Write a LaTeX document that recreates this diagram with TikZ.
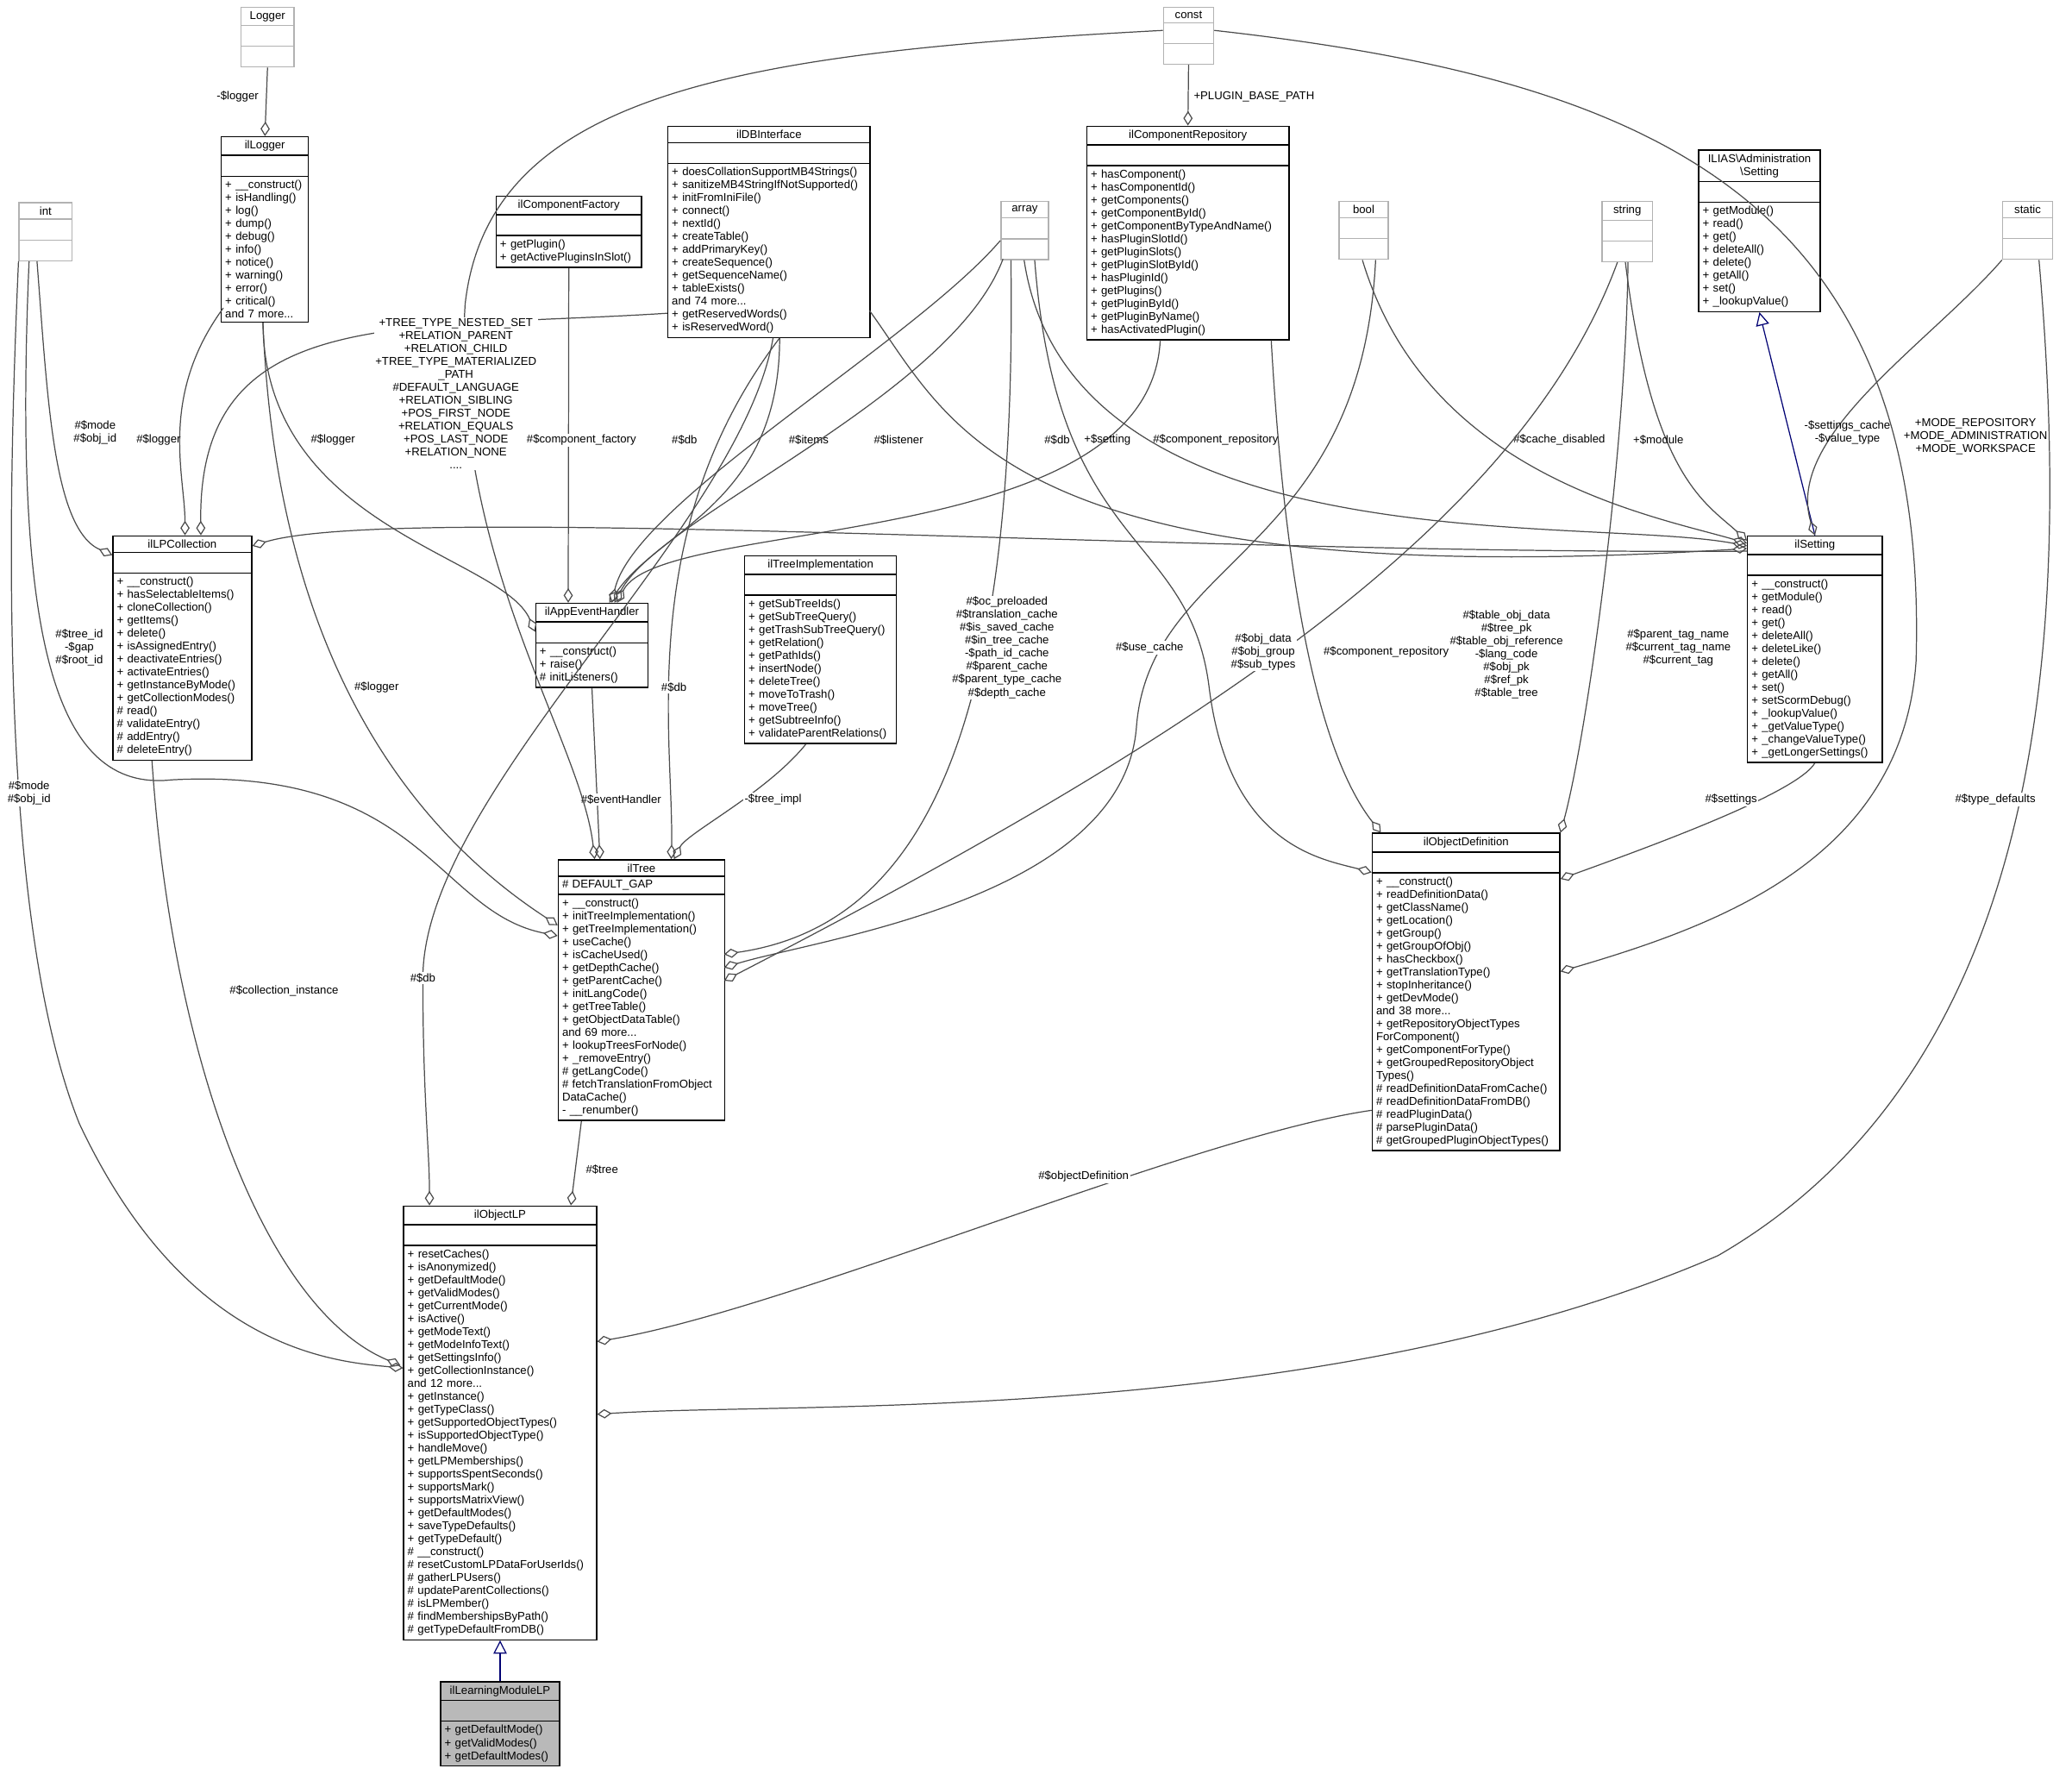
\documentclass[tikz,border=0pt]{standalone}
\usepackage{fontspec}
\setmainfont{Liberation Sans}
\usetikzlibrary{shapes.multipart,arrows.meta,calc}
\begin{document}
\begin{tikzpicture}[x=0.5pt,y=-0.5pt,
 cls/.style={rectangle split, rectangle split parts=3, draw=black, fill=white, anchor=north west, inner xsep=1.5pt, inner ysep=1.3pt, font=\fontsize{4.3}{4.9}\selectfont, line width=0.45pt},
 gcls/.style={cls, draw=gray!60},
 hl/.style={cls, fill=gray!55},
 agg/.style={draw=black!70, line width=0.4pt, -{Diamond[open,length=5.5pt,width=3.5pt]}},
 inh/.style={draw=blue!45!black, line width=0.4pt, -{Triangle[open,length=5pt,width=5pt]}},
 lbl/.style={font=\fontsize{4.3}{4.9}\selectfont, align=center, inner sep=0.5pt}]
\useasboundingbox (0,0) rectangle (1568,1347);
\newcommand{\E}{\rule{0pt}{4.8pt}}
\newcommand{\T}[1]{{\centering #1\par}}
% gray classes
\node[gcls,text width=17pt] (Logger) at (182,5) {\T{Logger}\nodepart{two}\E\nodepart{three}\E};
\node[gcls,text width=17pt] (int) at (14,153) {\T{int}\nodepart{two}\E\nodepart{three}\E};
\node[gcls,text width=16pt] (const) at (880,5) {\T{const}\nodepart{two}\E\nodepart{three}\E};
\node[gcls,text width=15pt] (array) at (757,152) {\T{array}\nodepart{two}\E\nodepart{three}\E};
\node[gcls,text width=15.5pt] (bool) at (1013,152) {\T{bool}\nodepart{two}\E\nodepart{three}\E};
\node[gcls,text width=16pt] (string) at (1212,152) {\T{string}\nodepart{two}\E\nodepart{three}\E};
\node[gcls,text width=16pt] (static) at (1515,152) {\T{static}\nodepart{two}\E\nodepart{three}\E};
% classes
\node[cls,text width=30pt] (ilLogger) at (167,103) {\T{ilLogger}\nodepart{two}\E\nodepart{three}+ \_\_construct()\\+ isHandling()\\+ log()\\+ dump()\\+ debug()\\+ info()\\+ notice()\\+ warning()\\+ error()\\+ critical()\\and 7 more...};
\node[cls,text width=49.5pt] (ilLPCollection) at (85,405) {\T{ilLPCollection}\nodepart{two}\E\nodepart{three}+ \_\_construct()\\+ hasSelectableItems()\\+ cloneCollection()\\+ getItems()\\+ delete()\\+ isAssignedEntry()\\+ deactivateEntries()\\+ activateEntries()\\+ getInstanceByMode()\\+ getCollectionModes()\\\# read()\\\# validateEntry()\\\# addEntry()\\\# deleteEntry()};
\node[cls,text width=52pt] (ilComponentFactory) at (375,148) {\T{ilComponentFactory}\nodepart{two}\E\nodepart{three}+ getPlugin()\\+ getActivePluginsInSlot()};
\node[cls,text width=73.5pt] (ilDBInterface) at (505,95) {\T{ilDBInterface}\nodepart{two}\E\nodepart{three}+ doesCollationSupportMB4Strings()\\+ sanitizeMB4StringIfNotSupported()\\+ initFromIniFile()\\+ connect()\\+ nextId()\\+ createTable()\\+ addPrimaryKey()\\+ createSequence()\\+ getSequenceName()\\+ tableExists()\\and 74 more...\\+ getReservedWords()\\+ isReservedWord()};
\node[cls,text width=73.5pt] (ilComponentRepository) at (822,95) {\T{ilComponentRepository}\nodepart{two}\E\nodepart{three}+ hasComponent()\\+ hasComponentId()\\+ getComponents()\\+ getComponentById()\\+ getComponentByTypeAndName()\\+ hasPluginSlotId()\\+ getPluginSlots()\\+ getPluginSlotById()\\+ hasPluginId()\\+ getPlugins()\\+ getPluginById()\\+ getPluginByName()\\+ hasActivatedPlugin()};
\node[cls,text width=43pt] (ILIASSetting) at (1285,113) {\T{ILIAS\textbackslash Administration\\\textbackslash Setting}\nodepart{two}\E\nodepart{three}+ getModule()\\+ read()\\+ get()\\+ deleteAll()\\+ delete()\\+ getAll()\\+ set()\\+ \_lookupValue()};
\node[cls,text width=39.5pt] (ilAppEventHandler) at (405,456) {\T{ilAppEventHandler}\nodepart{two}\E\nodepart{three}+ \_\_construct()\\+ raise()\\\# initListeners()};
\node[cls,text width=54.5pt] (ilTreeImplementation) at (563,420) {\T{ilTreeImplementation}\nodepart{two}\E\nodepart{three}+ getSubTreeIds()\\+ getSubTreeQuery()\\+ getTrashSubTreeQuery()\\+ getRelation()\\+ getPathIds()\\+ insertNode()\\+ deleteTree()\\+ moveToTrash()\\+ moveTree()\\+ getSubtreeInfo()\\+ validateParentRelations()};
\node[cls,text width=48pt] (ilSetting) at (1322,405) {\T{ilSetting}\nodepart{two}\E\nodepart{three}+ \_\_construct()\\+ getModule()\\+ read()\\+ get()\\+ deleteAll()\\+ deleteLike()\\+ delete()\\+ getAll()\\+ set()\\+ setScormDebug()\\+ \_lookupValue()\\+ \_getValueType()\\+ \_changeValueType()\\+ \_getLongerSettings()};
\node[cls,text width=60pt] (ilTree) at (422,650) {\T{ilTree}\nodepart{two}\# DEFAULT\_GAP\nodepart{three}+ \_\_construct()\\+ initTreeImplementation()\\+ getTreeImplementation()\\+ useCache()\\+ isCacheUsed()\\+ getDepthCache()\\+ getParentCache()\\+ initLangCode()\\+ getTreeTable()\\+ getObjectDataTable()\\and 69 more...\\+ lookupTreesForNode()\\+ \_removeEntry()\\\# getLangCode()\\\# fetchTranslationFromObject\\DataCache()\\- \_\_renumber()};
\node[cls,text width=68pt] (ilObjectDefinition) at (1038,630) {\T{ilObjectDefinition}\nodepart{two}\E\nodepart{three}+ \_\_construct()\\+ readDefinitionData()\\+ getClassName()\\+ getLocation()\\+ getGroup()\\+ getGroupOfObj()\\+ hasCheckbox()\\+ getTranslationType()\\+ stopInheritance()\\+ getDevMode()\\and 38 more...\\+ getRepositoryObjectTypes\\ForComponent()\\+ getComponentForType()\\+ getGroupedRepositoryObject\\Types()\\\# readDefinitionDataFromCache()\\\# readDefinitionDataFromDB()\\\# readPluginData()\\\# parsePluginData()\\\# getGroupedPluginObjectTypes()};
\node[cls,text width=70pt] (ilObjectLP) at (305,912) {\T{ilObjectLP}\nodepart{two}\E\nodepart{three}+ resetCaches()\\+ isAnonymized()\\+ getDefaultMode()\\+ getValidModes()\\+ getCurrentMode()\\+ isActive()\\+ getModeText()\\+ getModeInfoText()\\+ getSettingsInfo()\\+ getCollectionInstance()\\and 12 more...\\+ getInstance()\\+ getTypeClass()\\+ getSupportedObjectTypes()\\+ isSupportedObjectType()\\+ handleMove()\\+ getLPMemberships()\\+ supportsSpentSeconds()\\+ supportsMark()\\+ supportsMatrixView()\\+ getDefaultModes()\\+ saveTypeDefaults()\\+ getTypeDefault()\\\# \_\_construct()\\\# resetCustomLPDataForUserIds()\\\# gatherLPUsers()\\\# updateParentCollections()\\\# isLPMember()\\\# findMembershipsByPath()\\\# getTypeDefaultFromDB()};
\node[hl,text width=42pt] (ilLearningModuleLP) at (333,1272) {\T{ilLearningModuleLP}\nodepart{two}\E\nodepart{three}+ getDefaultMode()\\+ getValidModes()\\+ getDefaultModes()};
% edges
\draw[agg] (Logger.south) -- (ilLogger.north);
\node[lbl,anchor=east] (l1) at (197,73) {-\$logger};
\draw[agg] (const.south) -- (ilComponentRepository.north);
\node[lbl,anchor=west] (l2) at (902,73) {+PLUGIN\_BASE\_PATH};
\draw[inh] (ilSetting.north) -- (ILIASSetting.south);
\draw[agg] (static.south west) .. controls (1460,260) and (1350,330) .. (ilSetting.north);
\node[lbl] (l3) at (1398,327) {-\$settings\_cache\\-\$value\_type};
% to ilLPCollection
\draw[agg] ($(int.south west)+(14,0)$) .. controls (36,300) and (40,400) .. ($(ilLPCollection.north west)+(0,15)$);
\node[lbl] (l4) at (72,327) {\#\$mode\\\#\$obj\_id};
\draw[agg] ($(ilLogger.north west)+(2,130)$) .. controls (120,300) and (140,360) .. ($(ilLPCollection.north west)+(55,0)$);
\node[lbl] (l5) at (120,333) {\#\$logger};
\draw[agg] ($(ilDBInterface.north west)+(0,142)$) .. controls (300,250) and (150,230) .. ($(ilLPCollection.north west)+(67,0)$);
\draw[agg] ($(ilSetting.north west)+(0,12)$) .. controls (900,420) and (300,380) .. ($(ilLPCollection.north east)+(0,8)$);
% to ilAppEventHandler
\draw[agg] ($(ilLogger.south west)+(32,0)$) .. controls (200,400) and (380,420) .. ($(ilAppEventHandler.north west)+(0,22)$);
\node[lbl] (l6) at (252,333) {\#\$logger};
\draw[agg] (ilComponentFactory.south) -- ($(ilAppEventHandler.north west)+(25,0)$);
\draw[agg] ($(ilDBInterface.south west)+(85,0)$) .. controls (590,380) and (500,400) .. ($(ilAppEventHandler.north west)+(56,0)$);
\node[lbl] (l8) at (518,333) {\#\$db};
\draw[agg] ($(array.north west)+(0,30)$) .. controls (690,260) and (480,380) .. ($(ilAppEventHandler.north west)+(58,0)$);
\node[lbl] (l9) at (612,333) {\#\$items};
\draw[agg] ($(array.north west)+(2,44)$) .. controls (720,300) and (500,390) .. ($(ilAppEventHandler.north west)+(60,0)$);
\node[lbl] (l10) at (680,333) {\#\$listener};
\draw[agg] ($(ilComponentRepository.south west)+(56,0)$) .. controls (870,420) and (500,390) .. ($(ilAppEventHandler.north west)+(62,0)$);
\node[lbl] (l11) at (920,333) {\#\$component\_repository};
% to ilSetting
\draw[agg] ($(ilDBInterface.north west)+(153,140)$) .. controls (720,320) and (760,450) .. ($(ilSetting.north west)+(0,10)$);
\node[lbl] (l12) at (800,333) {\#\$db};
\draw[agg] ($(array.south west)+(18,0)$) .. controls (810,430) and (1200,390) .. ($(ilSetting.north west)+(0,8)$);
\node[lbl] (l13) at (838,333) {+\$setting};
\draw[agg] ($(bool.south west)+(18,0)$) .. controls (1080,360) and (1250,390) .. ($(ilSetting.north west)+(0,6)$);
\node[lbl] (l14) at (1180,333) {\#\$cache\_disabled};
\draw[agg] ($(string.south west)+(18,0)$) .. controls (1250,360) and (1290,380) .. ($(ilSetting.north west)+(0,4)$);
\node[lbl] (l15) at (1255,333) {+\$module};
% to ilTree
\draw[agg] (ilAppEventHandler.south) -- ($(ilTree.north west)+(32,0)$);
\node[lbl,fill=white] (l16) at (470,605) {\#\$eventHandler};
\draw[agg] ($(ilTreeImplementation.south west)+(47,0)$) .. controls (580,600) and (520,630) .. ($(ilTree.north west)+(88,0)$);
\node[lbl,fill=white] (l17) at (585,605) {-\$tree\_impl};
\draw[agg] ($(const.north west)+(0,18)$) .. controls (560,40) and (370,70) .. (352,230) .. controls (340,420) and (440,560) .. ($(ilTree.north west)+(28,0)$);
\node[lbl,fill=white] (l18) at (345,298) {+TREE\_TYPE\_NESTED\_SET\\+RELATION\_PARENT\\+RELATION\_CHILD\\+TREE\_TYPE\_MATERIALIZED\\\_PATH\\\#DEFAULT\_LANGUAGE\\+RELATION\_SIBLING\\+POS\_FIRST\_NODE\\+RELATION\_EQUALS\\+POS\_LAST\_NODE\\+RELATION\_NONE\\....};
\node[lbl,fill=white] (l7) at (440,333) {\#\$component\_factory};
\draw[agg] ($(int.south west)+(8,0)$) .. controls (10,480) and (40,600) .. (130,590) .. controls (320,580) and (330,690) .. ($(ilTree.north west)+(0,58)$);
\node[lbl,fill=white] (l19) at (60,490) {\#\$tree\_id\\-\$gap\\\#\$root\_id};
\draw[agg] ($(ilLogger.south west)+(32,0)$) .. controls (210,520) and (330,640) .. ($(ilTree.north west)+(0,50)$);
\node[lbl,fill=white] (l20) at (285,520) {\#\$logger};
\draw[agg] ($(ilDBInterface.south west)+(85,0)$) .. controls (480,400) and (510,560) .. ($(ilTree.north west)+(86,0)$);
\node[lbl,fill=white] (l21) at (510,520) {\#\$db};
\draw[agg] ($(array.south west)+(8,0)$) .. controls (770,550) and (700,700) .. ($(ilTree.north west)+(126,72)$);
\node[lbl,fill=white] (l22) at (762,490) {\#\$oc\_preloaded\\\#\$translation\_cache\\\#\$is\_saved\_cache\\\#\$in\_tree\_cache\\-\$path\_id\_cache\\\#\$parent\_cache\\\#\$parent\_type\_cache\\\#\$depth\_cache};
\draw[agg] ($(bool.south west)+(28,0)$) .. controls (1030,420) and (870,420) .. (860,550) .. controls (850,680) and (620,710) .. ($(ilTree.north west)+(126,82)$);
\node[lbl,fill=white] (l23) at (870,490) {\#\$use\_cache};
\draw[agg] ($(string.south west)+(12,0)$) .. controls (1150,400) and (900,560) .. ($(ilTree.north west)+(126,92)$);
\node[lbl,fill=white] (l24) at (1140,495) {\#\$table\_obj\_data\\\#\$tree\_pk\\\#\$table\_obj\_reference\\-\$lang\_code\\\#\$obj\_pk\\\#\$ref\_pk\\\#\$table\_tree};
% to ilObjectDefinition
\draw[agg] ($(array.south west)+(26,0)$) .. controls (800,420) and (900,400) .. (915,520) .. controls (930,640) and (1000,650) .. ($(ilObjectDefinition.north west)+(0,30)$);
\node[lbl,fill=white] (l25) at (956,493) {\#\$obj\_data\\\#\$obj\_group\\\#\$sub\_types};
\draw[agg] ($(ilComponentRepository.south west)+(140,0)$) .. controls (970,400) and (990,560) .. ($(ilObjectDefinition.north west)+(7,0)$);
\node[lbl,fill=white] (l26) at (1049,493) {\#\$component\_repository};
\draw[agg] ($(string.south west)+(20,0)$) .. controls (1230,350) and (1200,560) .. ($(ilObjectDefinition.north east)+(0,0)$);
\node[lbl,fill=white] (l27) at (1270,490) {\#\$parent\_tag\_name\\\#\$current\_tag\_name\\\#\$current\_tag};
\draw[agg] (ilSetting.south) .. controls (1360,600) and (1250,640) .. ($(ilObjectDefinition.north east)+(0,35)$);
\node[lbl,fill=white] (l28) at (1310,605) {\#\$settings};
\draw[agg] ($(const.north east)+(0,18)$) .. controls (1250,60) and (1460,150) .. (1450,500) .. controls (1440,650) and (1300,700) .. ($(ilObjectDefinition.north east)+(0,105)$);
\node[lbl,fill=white] (l29) at (1495,330) {+MODE\_REPOSITORY\\+MODE\_ADMINISTRATION\\+MODE\_WORKSPACE};
% to ilObjectLP
\draw[agg] ($(static.south west)+(28,0)$) .. controls (1565,450) and (1560,800) .. (1300,950) .. controls (1000,1080) and (600,1060) .. ($(ilObjectLP.north east)+(0,158)$);
\node[lbl,fill=white] (l30) at (1510,605) {\#\$type\_defaults};
\draw[agg] ($(ilObjectDefinition.north west)+(0,210)$) .. controls (900,860) and (600,990) .. ($(ilObjectLP.north east)+(0,103)$);
\node[lbl,fill=white] (l31) at (820,890) {\#\$objectDefinition};
\draw[agg] ($(ilTree.south west)+(18,0)$) -- ($(ilObjectLP.north west)+(127,0)$);
\node[lbl,anchor=west] (l32) at (442,885) {\#\$tree};
\draw[agg] ($(ilDBInterface.south west)+(80,0)$) .. controls (560,400) and (320,600) .. (320,740) .. controls (320,830) and (325,870) .. ($(ilObjectLP.north west)+(20,0)$);
\node[lbl,fill=white] (l33) at (320,740) {\#\$db};
\draw[agg] (int.south west) .. controls (5,400) and (0,700) .. (60,850) .. controls (140,1020) and (250,1030) .. ($(ilObjectLP.north west)+(0,123)$);
\node[lbl,fill=white] (l34) at (22,600) {\#\$mode\\\#\$obj\_id};
\draw[agg] ($(ilLPCollection.south west)+(30,0)$) .. controls (130,800) and (200,990) .. ($(ilObjectLP.north west)+(-2,121)$);
\node[lbl,fill=white] (l35) at (215,750) {\#\$collection\_instance};
\draw[inh] (ilLearningModuleLP.north) -- (ilObjectLP.south);
\end{tikzpicture}
\end{document}
